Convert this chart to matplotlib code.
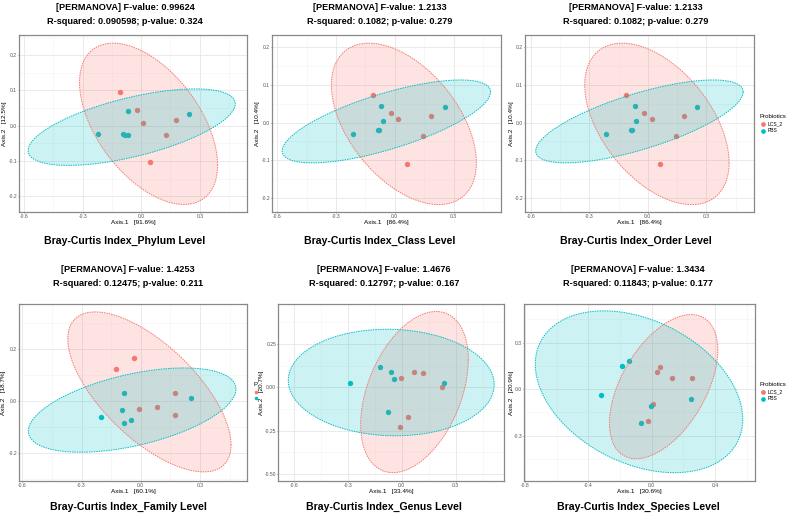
import numpy as np
import matplotlib
matplotlib.use("Agg")
import matplotlib.pyplot as plt
from matplotlib.lines import Line2D

plt.rcParams['font.family'] = ['Liberation Sans', 'DejaVu Sans']

# group names and colours (ggplot defaults)
groups = ['LCS_2', 'PBS']
colors = {'LCS_2': '#F8766D', 'PBS': '#00BFC4'}

levels = ['Phylum', 'Class', 'Order', 'Family', 'Genus', 'Species']
f_values = ['0.99624', '1.2133', '1.2133', '1.4253', '1.4676', '1.3434']
r_squared = ['0.090598', '0.1082', '0.1082', '0.12475', '0.12797', '0.11843']
p_values = ['0.324', '0.279', '0.279', '0.211', '0.167', '0.177']
axis1_pct = ['91.6%', '86.4%', '86.4%', '60.1%', '33.4%', '30.6%']
axis2_pct = ['12.5%', '10.4%', '10.4%', '18.7%', '20.7%', '20.9%']

# PCoA scores (Axis.1, Axis.2)
phylum_lcs_x = [-0.111, -0.022, 0.010, 0.177, 0.128, 0.044]
phylum_lcs_y = [0.095, 0.045, 0.008, 0.016, -0.027, -0.103]
phylum_pbs_x = [-0.222, -0.094, -0.084, -0.070, -0.070, 0.247]
phylum_pbs_y = [-0.024, -0.022, -0.025, -0.026, 0.042, 0.032]

class_lcs_x = [-0.113, -0.017, 0.019, 0.186, 0.142, 0.063]
class_lcs_y = [0.074, 0.024, 0.010, 0.017, -0.036, -0.110]
class_pbs_x = [-0.215, -0.085, -0.082, -0.061, -0.068, 0.254]
class_pbs_y = [-0.031, -0.019, -0.020, 0.004, 0.043, 0.041]

order_lcs_x = [-0.113, -0.017, 0.019, 0.186, 0.142, 0.063]
order_lcs_y = [0.074, 0.024, 0.010, 0.017, -0.036, -0.110]
order_pbs_x = [-0.215, -0.085, -0.082, -0.061, -0.068, 0.254]
order_pbs_y = [-0.031, -0.019, -0.020, 0.004, 0.043, 0.041]

family_lcs_x = [-0.126, -0.035, -0.010, 0.083, 0.175, 0.175]
family_lcs_y = [0.124, 0.168, -0.031, -0.022, 0.030, -0.054]
family_pbs_x = [-0.204, -0.093, -0.084, -0.051, -0.084, 0.253]
family_pbs_y = [-0.062, -0.034, 0.032, -0.071, -0.085, 0.014]

genus_lcs_x = [-0.006, 0.069, 0.118, 0.222, 0.035, -0.009]
genus_lcs_y = [0.054, 0.091, 0.085, 0.002, -0.168, -0.226]
genus_pbs_x = [-0.285, -0.118, -0.061, -0.043, -0.074, 0.235]
genus_pbs_y = [0.027, 0.116, 0.091, 0.050, -0.141, 0.025]

species_lcs_x = [0.055, 0.034, 0.128, 0.253, 0.006, -0.021]
species_lcs_y = [0.145, 0.112, 0.071, 0.069, -0.095, -0.207]
species_pbs_x = [-0.320, -0.187, -0.145, -0.004, -0.067, 0.246]
species_pbs_y = [-0.041, 0.151, 0.179, -0.112, -0.216, -0.065]

scores = [
    (phylum_lcs_x, phylum_lcs_y, phylum_pbs_x, phylum_pbs_y),
    (class_lcs_x, class_lcs_y, class_pbs_x, class_pbs_y),
    (order_lcs_x, order_lcs_y, order_pbs_x, order_pbs_y),
    (family_lcs_x, family_lcs_y, family_pbs_x, family_pbs_y),
    (genus_lcs_x, genus_lcs_y, genus_pbs_x, genus_pbs_y),
    (species_lcs_x, species_lcs_y, species_pbs_x, species_pbs_y),
]

# axis ranges and ticks
xlims = [(-0.626, 0.542), (-0.626, 0.542), (-0.629, 0.544),
         (-0.617, 0.538), (-0.687, 0.569), (-0.806, 0.653)]
ylims = [(-0.244, 0.257), (-0.237, 0.232), (-0.237, 0.232),
         (-0.308, 0.375), (-0.540, 0.481), (-0.594, 0.550)]
xticks = [[-0.6, -0.3, 0.0, 0.3]] * 5 + [[-0.8, -0.4, 0.0, 0.4]]
yticks = [[-0.2, -0.1, 0.0, 0.1, 0.2]] * 3 + [[-0.2, 0.0, 0.2],
          [-0.5, -0.25, 0.0, 0.25], [-0.3, 0.0, 0.3]]
ydigits = [1, 1, 1, 1, 2, 1]

W, H = 787, 517
# panel boxes in pixels: left, top, right, bottom
boxes = [(19, 35, 247, 212), (272, 35, 501, 212), (525, 35, 754, 212),
         (19, 304, 247, 481), (278, 304, 504, 481), (524, 304, 755, 481)]
ylabel_off = [14, 14, 14, 15, 16, 12]   # px left of the panel
centers = [125, 380, 636, 128, 384, 638]


def stat_ellipse(x, y, level=0.95, segments=120):
    # same idea as ggplot2 stat_ellipse: F-based radius on the covariance
    x = np.asarray(x)
    y = np.asarray(y)
    n = len(x)
    cov = np.cov(x, y)
    dfd = n - 1
    fq = dfd / 2 * ((1 - level) ** (-2 / dfd) - 1)
    radius = np.sqrt(2 * fq)
    t = np.linspace(0, 2 * np.pi, segments)
    circle = np.vstack([np.cos(t), np.sin(t)])
    L = np.linalg.cholesky(cov)
    pts = radius * (L @ circle)
    return x.mean() + pts[0], y.mean() + pts[1]


def minor_of(ticks):
    step = ticks[1] - ticks[0]
    m = [(ticks[k] + ticks[k + 1]) / 2 for k in range(len(ticks) - 1)]
    return [ticks[0] - step / 2] + m + [ticks[-1] + step / 2]


fig = plt.figure(figsize=(W / 100, H / 100), dpi=100)

for i in range(6):
    l, t, r, b = boxes[i]
    ax = fig.add_axes([l / W, 1 - b / H, (r - l) / W, (b - t) / H])
    lx, ly, px, py = scores[i]

    ax.scatter(lx, ly, s=15, color=colors['LCS_2'], lw=0, zorder=2)
    ax.scatter(px, py, s=15, color=colors['PBS'], lw=0, zorder=2)
    for gx, gy, g in [(lx, ly, 'LCS_2'), (px, py, 'PBS')]:
        ex, ey = stat_ellipse(gx, gy)
        ax.fill(ex, ey, color=colors[g], alpha=0.2, lw=0, zorder=3)
        ax.plot(ex, ey, color=colors[g], lw=0.7, ls=(0, (1.5, 1)), zorder=4)

    xt = xticks[i]
    yt = yticks[i]
    ax.set_xticks(xt)
    ax.set_xticklabels(['%.1f' % v for v in xt])
    ax.set_yticks(yt)
    ax.set_yticklabels([('%.' + str(ydigits[i]) + 'f') % v for v in yt])
    ax.set_xticks(minor_of(xt), minor=True)
    ax.set_yticks(minor_of(yt), minor=True)
    # limits after the ticks, so the minor ticks don't widen the view
    ax.set_xlim(xlims[i])
    ax.set_ylim(ylims[i])
    ax.grid(which='major', color='#e6e6e6', lw=0.6)
    ax.grid(which='minor', color='#f3f3f3', lw=0.4)
    ax.set_axisbelow(True)
    ax.tick_params(which='major', length=0.9, width=0.5, color='#666666',
                   labelsize=3.6, labelcolor='#555555', pad=0.4)
    ax.tick_params(which='minor', length=0)
    for sp in ax.spines.values():
        sp.set_color('#888888')
        sp.set_linewidth(0.9)
    ax.set_xlabel('Axis.1   [%s]' % axis1_pct[i], fontsize=4.6)
    ax.set_ylabel('Axis.2   [%s]' % axis2_pct[i], fontsize=4.6)
    ax.xaxis.set_label_coords(0.5, -10.5 / (b - t))
    ax.yaxis.set_label_coords(-ylabel_off[i] / (r - l), 0.5)
    ax.xaxis.label.set_va('center')
    ax.yaxis.label.set_va('center')

    # titles above and captions below
    row_top = 8 if i < 3 else 269
    fig.text(centers[i] / W, 1 - row_top / H,
             '[PERMANOVA] F-value: %s' % f_values[i],
             ha='center', va='center', fontsize=6.6, fontweight='bold')
    fig.text(centers[i] / W, 1 - (row_top + 14) / H,
             'R-squared: %s; p-value: %s' % (r_squared[i], p_values[i]),
             ha='center', va='center', fontsize=6.6, fontweight='bold')
    cap_y = 241 if i < 3 else 507
    fig.text(centers[i] / W, 1 - cap_y / H,
             'Bray-Curtis Index_%s Level' % levels[i],
             ha='center', va='center', fontsize=7.6, fontweight='bold')

# legends beside the right-hand panels
for top in [116, 384]:
    fig.text(759 / W, 1 - top / H, 'Probiotics', fontsize=4.4,
             ha='left', va='center')
    for k, g in enumerate(groups):
        yy = 1 - (top + 8 + 7 * k) / H
        fig.add_artist(Line2D([763 / W], [yy], transform=fig.transFigure,
                              ls='', marker='o', ms=3.4, mew=0, color=colors[g]))
        fig.text(768 / W, yy, g, fontsize=3.6, ha='left', va='center')

# clipped leftover of a legend between the Family and Genus panels
fig.text(254 / W, 1 - 384 / H, 'P', fontsize=4.4, ha='left', va='center')
for k, g in enumerate(groups):
    fig.add_artist(Line2D([256 / W], [1 - (392 + 6 * k) / H], transform=fig.transFigure,
                          ls='', marker='o', ms=2.6, mew=0, color=colors[g]))

fig.savefig('out.png', dpi=100)
